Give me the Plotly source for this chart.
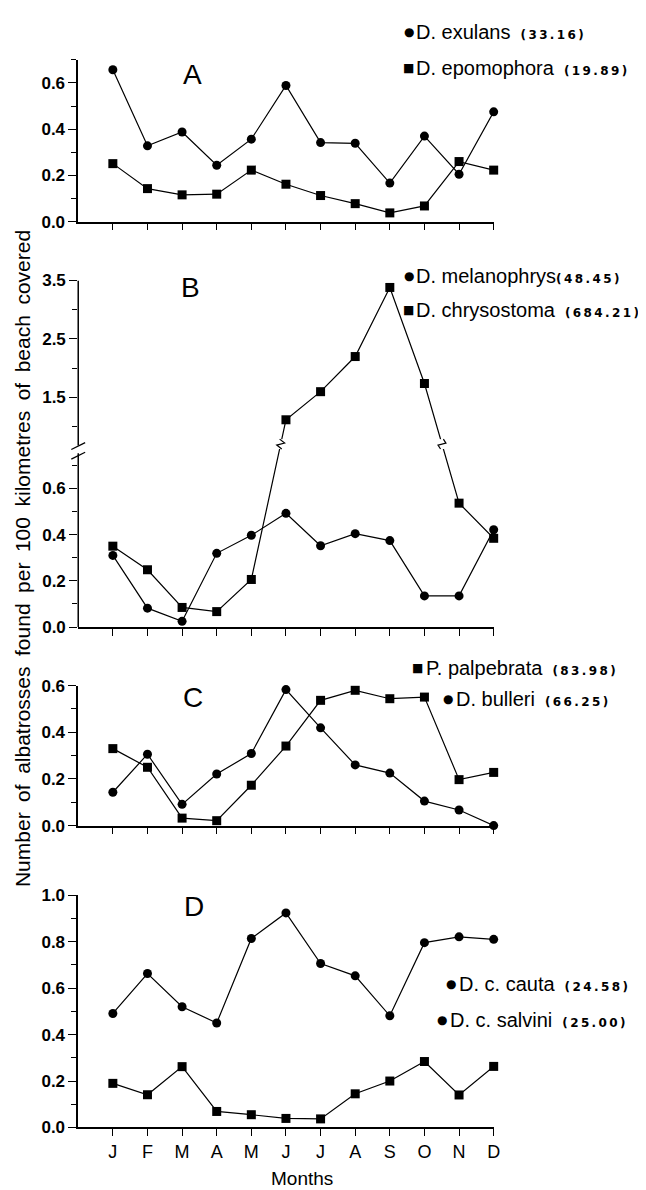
import plotly.graph_objects as go

# ---------------- data ----------------
months = ["J", "F", "M", "A", "M", "J", "J", "A", "S", "O", "N", "D"]
month_pos = list(range(1, 13))

a_exulans = [0.657, 0.328, 0.388, 0.244, 0.357, 0.589, 0.342, 0.339, 0.167, 0.370, 0.205, 0.475]
a_epomophora = [0.251, 0.143, 0.116, 0.119, 0.223, 0.162, 0.113, 0.078, 0.038, 0.068, 0.260, 0.223]

b_melanophrys = [0.310, 0.082, 0.025, 0.319, 0.397, 0.492, 0.352, 0.404, 0.374, 0.135, 0.135, 0.421]
b_chrysostoma = [0.350, 0.248, 0.085, 0.067, 0.206, 1.12, 1.60, 2.20, 3.38, 1.74, 0.536, 0.384]

c_palpebrata = [0.330, 0.250, 0.032, 0.021, 0.173, 0.341, 0.537, 0.580, 0.544, 0.551, 0.197, 0.228]
c_bulleri = [0.143, 0.306, 0.091, 0.221, 0.309, 0.583, 0.419, 0.260, 0.225, 0.105, 0.067, 0.0]

d_cauta = [0.491, 0.663, 0.520, 0.450, 0.814, 0.924, 0.706, 0.653, 0.481, 0.796, 0.821, 0.810]
d_salvini = [0.190, 0.141, 0.262, 0.069, 0.055, 0.039, 0.037, 0.145, 0.200, 0.284, 0.140, 0.263]

legend_a = [("●", "D. exulans", "33.16"), ("■", "D. epomophora", "19.89")]
legend_b = [("●", "D. melanophrys", "48.45"), ("■", "D. chrysostoma", "684.21")]
legend_c = [("■", "P. palpebrata", "83.98"), ("●", "D. bulleri", "66.25")]
legend_d = [("●", "D. c. cauta", "24.58"), ("●", "D. c. salvini", "25.00")]

y_title = "Number of albatrosses found per 100 kilometres of beach covered"
x_title = "Months"

# ---------------- layout constants (pixels) ----------------
W, H = 646, 1190
X_L, X_R = 71, 491
X_MAX = 12
PX_PER_MONTH = (X_R - X_L) / X_MAX


def fx(px):
    return px / W


def fy(py):
    return 1 - py / H


# broken axis for panel B: lower part linear, upper part compressed
B_ZERO_PX = 620.0
B_LOW_PX = 235.0     # px per unit below the break
B_HIGH_PX = 59.5     # px per unit above the break
B_ANCHOR_V, B_ANCHOR_PX = 1.5, 386.7
U_ANCHOR = (B_ZERO_PX - B_ANCHOR_PX) / B_LOW_PX
R = B_HIGH_PX / B_LOW_PX
BREAK_V = 0.77


def bu(v):
    return v if v <= BREAK_V else U_ANCHOR + (v - B_ANCHOR_V) * R


B_TOP_U = bu(3.5)
B_TOP_PX = B_ZERO_PX - B_TOP_U * B_LOW_PX

PANELS = {
    "A": dict(top=43.5, bot=208.0, rng=[0, 0.7]),
    "B": dict(top=B_TOP_PX, bot=B_ZERO_PX, rng=[0, B_TOP_U]),
    "C": dict(top=679.5, bot=821.7, rng=[0, 0.6]),
    "D": dict(top=892.5, bot=1128.5, rng=[0, 1.0]),
}

LINE = dict(color="black", width=1.2)
MSIZE = 9
TICKFONT = dict(family="Liberation Sans, Arial, sans-serif", size=17, color="black", weight="bold")

fig = go.Figure()


def add_series(y, symbol, ax):
    fig.add_trace(go.Scatter(
        x=month_pos, y=y, mode="lines+markers",
        line=LINE, marker=dict(symbol=symbol, size=MSIZE, color="black"),
        xaxis="x" + ax, yaxis="y" + ax, cliponaxis=False, showlegend=False,
        hoverinfo="skip"))


add_series(a_exulans, "circle", "")
add_series(a_epomophora, "square", "")
add_series(b_melanophrys, "circle", "2")
add_series([bu(v) for v in b_chrysostoma], "square", "2")
add_series(c_palpebrata, "square", "3")
add_series(c_bulleri, "circle", "3")
add_series(d_cauta, "circle", "4")
add_series(d_salvini, "square", "4")

layout = dict(
    width=W, height=H, margin=dict(l=0, r=0, t=0, b=0),
    paper_bgcolor="white", plot_bgcolor="white", showlegend=False,
)

names = ["", "2", "3", "4"]
keys = ["A", "B", "C", "D"]
for nm, k in zip(names, keys):
    p = PANELS[k]
    is_last = k == "D"
    layout["xaxis" + nm] = dict(
        domain=[fx(X_L), fx(X_R)], range=[0, X_MAX], anchor="y" + nm,
        showline=True, linecolor="black", linewidth=1.5,
        ticks="outside", ticklen=7, tickwidth=1.3, tickcolor="black",
        tickvals=month_pos, ticktext=months,
        showticklabels=is_last, showgrid=False, zeroline=False, fixedrange=True,
        tickfont=dict(family="Liberation Sans Narrow, Liberation Sans, Arial, sans-serif",
                      size=18, color="black"),
    )
    yax = dict(
        domain=[fy(p["bot"]), fy(p["top"])], range=p["rng"], anchor="x" + nm,
        showline=True, linecolor="black", linewidth=1.5,
        ticks="outside", ticklen=8, tickwidth=1.3, tickcolor="black",
        showgrid=False, zeroline=False, tickfont=TICKFONT, fixedrange=True,
    )
    if k == "A":
        yax.update(tickvals=[0, 0.2, 0.4, 0.6], ticktext=["0.0", "0.2", "0.4", "0.6"],
                   minor=dict(tickvals=[0.1, 0.3, 0.5, 0.7], ticks="outside", ticklen=5,
                              tickwidth=1.2, tickcolor="black", showgrid=False))
    elif k == "B":
        maj = [0, 0.2, 0.4, 0.6, 1.5, 2.5, 3.5]
        mnr = [0.1, 0.3, 0.5, 0.7, 1.0, 2.0, 3.0]
        yax.update(tickvals=[bu(v) for v in maj], ticktext=["%.1f" % v for v in maj],
                   showline=False,
                   minor=dict(tickvals=[bu(v) for v in mnr], ticks="outside", ticklen=5,
                              tickwidth=1.2, tickcolor="black", showgrid=False))
    elif k == "C":
        yax.update(tickvals=[0, 0.2, 0.4, 0.6], ticktext=["0.0", "0.2", "0.4", "0.6"],
                   minor=dict(tickvals=[0.1, 0.3, 0.5], ticks="outside", ticklen=5,
                              tickwidth=1.2, tickcolor="black", showgrid=False))
    else:
        yax.update(tickvals=[0, 0.2, 0.4, 0.6, 0.8, 1.0],
                   ticktext=["0.0", "0.2", "0.4", "0.6", "0.8", "1.0"],
                   minor=dict(tickvals=[0.1, 0.3, 0.5, 0.7, 0.9], ticks="outside", ticklen=5,
                              tickwidth=1.2, tickcolor="black", showgrid=False))
    layout["yaxis" + nm] = yax

# ---------------- shapes: broken axis in panel B ----------------
shapes = []
U_LOW_TOP = 0.752
U_UP_BOT = 0.785
shapes.append(dict(type="line", xref="paper", yref="y2", x0=fx(X_L), x1=fx(X_L),
                   y0=0, y1=U_LOW_TOP, line=dict(color="black", width=1.5)))
shapes.append(dict(type="line", xref="paper", yref="y2", x0=fx(X_L), x1=fx(X_L),
                   y0=U_UP_BOT, y1=B_TOP_U, line=dict(color="black", width=1.5)))
yb_lo = B_ZERO_PX - U_LOW_TOP * B_LOW_PX
yb_hi = B_ZERO_PX - U_UP_BOT * B_LOW_PX
for yy in (yb_lo + 3, yb_hi + 1):
    shapes.append(dict(type="line", xref="paper", yref="paper",
                       x0=fx(X_L - 7), y0=fy(yy + 3), x1=fx(X_L + 7), y1=fy(yy - 4),
                       line=dict(color="black", width=1.3)))

# zigzag marks where the chrysostoma line crosses the break
Y_BREAK = 434.0
for i in range(len(b_chrysostoma) - 1):
    u1, u2 = bu(b_chrysostoma[i]), bu(b_chrysostoma[i + 1])
    x1p = X_L + month_pos[i] * PX_PER_MONTH
    x2p = X_L + month_pos[i + 1] * PX_PER_MONTH
    y1p = B_ZERO_PX - u1 * B_LOW_PX
    y2p = B_ZERO_PX - u2 * B_LOW_PX
    if (y1p - Y_BREAK) * (y2p - Y_BREAK) < 0:
        t = (y1p - Y_BREAK) / (y1p - y2p)
        xc = x1p + t * (x2p - x1p)
        dxdy = (x2p - x1p) / (y2p - y1p)
        pa = (xc - 5 * dxdy, Y_BREAK + 5)
        pb = (xc + 5 * dxdy, Y_BREAK - 5)
        shapes.append(dict(type="rect", xref="paper", yref="paper",
                           x0=fx(xc - 6), x1=fx(xc + 6), y0=fy(Y_BREAK + 5), y1=fy(Y_BREAK - 5),
                           fillcolor="white", line=dict(width=0)))
        path = "M %f,%f L %f,%f L %f,%f L %f,%f" % (
            fx(pa[0]), fy(pa[1]), fx(xc - 4), fy(Y_BREAK + 1),
            fx(xc + 4), fy(Y_BREAK - 1), fx(pb[0]), fy(pb[1]))
        shapes.append(dict(type="path", xref="paper", yref="paper", path=path,
                           line=dict(color="black", width=1.2)))

layout["shapes"] = shapes

# ---------------- annotations ----------------
ann = []
LAB_FONT = dict(family="Liberation Sans, Arial, sans-serif", size=20, color="black")


def spaced(s):
    return "\u2009".join("(" + s + ")")


def legend_entry(sym, x_sym, x_txt, y, name, count, gap="\u2002"):
    ann.append(dict(xref="paper", yref="paper", x=fx(x_sym), y=fy(y), text=sym,
                    showarrow=False, xanchor="center", yanchor="middle",
                    font=dict(family="DejaVu Sans", size=12, color="black")))
    txt = (name + gap + "<span style='font-family:DejaVu Sans;font-weight:bold;font-size:12px'>"
           + spaced(count) + "</span>")
    ann.append(dict(xref="paper", yref="paper", x=fx(x_txt), y=fy(y), text=txt,
                    showarrow=False, xanchor="left", yanchor="middle", font=LAB_FONT))


legend_entry(legend_a[0][0], 405, 410, 15, legend_a[0][1], legend_a[0][2])
legend_entry(legend_a[1][0], 405, 410, 52, legend_a[1][1], legend_a[1][2])
legend_entry(legend_b[0][0], 405, 410, 263, legend_b[0][1], legend_b[0][2], gap="")
legend_entry(legend_b[1][0], 405, 410, 298, legend_b[1][1], legend_b[1][2])
legend_entry(legend_c[0][0], 414, 421, 662, legend_c[0][1], legend_c[0][2])
legend_entry(legend_c[1][0], 445, 451, 693, legend_c[1][1], legend_c[1][2])
legend_entry(legend_d[0][0], 448, 454, 983, legend_d[0][1], legend_d[0][2])
legend_entry(legend_d[1][0], 439, 445, 1019, legend_d[1][1], legend_d[1][2])

PANEL_FONT = dict(family="Liberation Sans, Arial, sans-serif", size=28, color="black")
for letter, (px, py) in zip(keys, [(187, 58), (185, 275), (187, 692), (188, 904)]):
    ann.append(dict(xref="paper", yref="paper", x=fx(px), y=fy(py), text=letter,
                    showarrow=False, xanchor="center", yanchor="middle", font=PANEL_FONT))

ann.append(dict(xref="paper", yref="paper", x=fx(14), y=fy(550),
                text=y_title.replace(" ", "\u2002"),
                textangle=-90, showarrow=False, xanchor="center", yanchor="middle",
                font=dict(family="Liberation Sans, Arial, sans-serif", size=21, color="black")))
ann.append(dict(xref="paper", yref="paper", x=fx(297), y=fy(1180), text=x_title,
                showarrow=False, xanchor="center", yanchor="middle",
                font=dict(family="Liberation Sans, Arial, sans-serif", size=19, color="black")))

layout["annotations"] = ann
fig.update_layout(**layout)

fig.write_html("out.html")
